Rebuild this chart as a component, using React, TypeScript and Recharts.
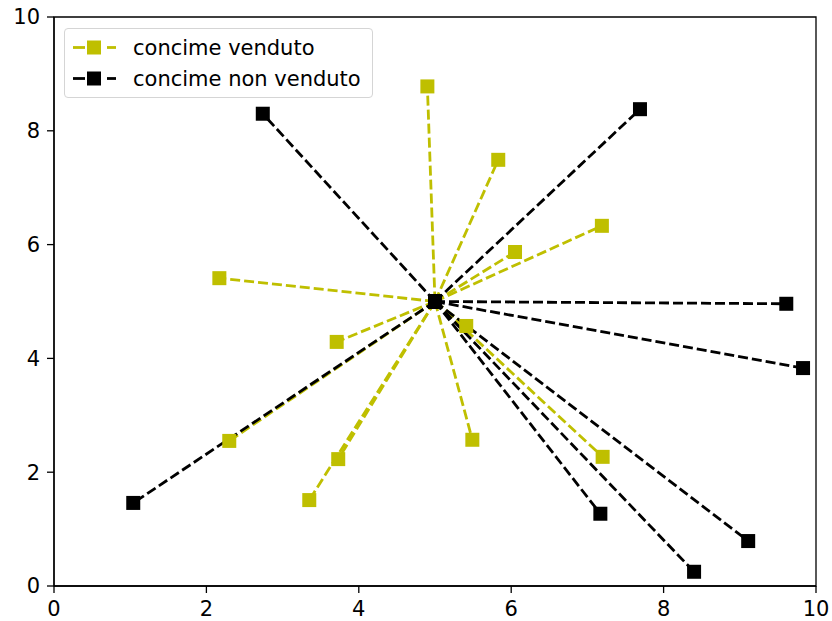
import React from 'react';
import { LineChart, Line, XAxis, YAxis, ReferenceArea } from 'recharts';

const CENTER = { x: 5, y: 5 };

// concime venduto (end points)
const vendutoX = [4.9, 5.83, 7.19, 6.05, 2.17, 3.71, 5.41, 2.3, 5.49, 3.73, 7.2, 3.35];
const vendutoY = [8.78, 7.49, 6.33, 5.87, 5.41, 4.29, 4.57, 2.55, 2.57, 2.23, 2.27, 1.51];

// concime non venduto (end points)
const nonVendutoX = [2.74, 7.69, 9.61, 9.83, 1.04, 7.17, 9.11, 8.4];
const nonVendutoY = [8.3, 8.38, 4.96, 3.83, 1.46, 1.27, 0.79, 0.25];

const TICKS = [0, 2, 4, 6, 8, 10];

const YELLOW = '#bfbf00';
const BLACK = '#000000';
const FONT = '"DejaVu Sans", sans-serif';
const FS = 21;
const MS = 14;

const segments = (xs: number[], ys: number[]) =>
  xs.map((x, i) => [CENTER, { x, y: ys[i] }]);

const squareDot = (color: string) => (props: any) => {
  const { cx, cy, key } = props;
  if (cx == null || cy == null) return <g key={key} />;
  return <rect key={key} x={cx - MS / 2} y={cy - MS / 2} width={MS} height={MS} fill={color} />;
};

const LegendIcon = ({ color }: { color: string }) => (
  <svg width={44} height={15} style={{ display: 'block' }}>
    <line x1={0} y1={7.5} x2={12} y2={7.5} stroke={color} strokeWidth={2.8} />
    <rect x={14} y={0.5} width={14} height={14} fill={color} />
    <line x1={34} y1={7.5} x2={43} y2={7.5} stroke={color} strokeWidth={2.8} />
  </svg>
);

const legendItems = [
  { name: 'concime venduto', color: YELLOW },
  { name: 'concime non venduto', color: BLACK },
];

export default function App() {
  const yellowSegs = segments(vendutoX, vendutoY);
  const blackSegs = segments(nonVendutoX, nonVendutoY);

  return (
    <div style={{ position: 'relative', width: 832, height: 621, background: '#fff' }}>
      <style>{'body{margin:0}'}</style>
      <LineChart width={832} height={621} margin={{ top: 17, right: 16, left: 0, bottom: 0 }}>
        <XAxis
          type="number"
          dataKey="x"
          domain={[0, 10]}
          ticks={TICKS}
          allowDataOverflow
          height={35}
          tickSize={7}
          tickMargin={8}
          stroke={BLACK}
          strokeWidth={1.3}
          tick={{ fill: BLACK, fontSize: FS, fontFamily: FONT }}
        />
        <YAxis
          type="number"
          dataKey="y"
          domain={[0, 10]}
          ticks={TICKS}
          allowDataOverflow
          width={54}
          tickSize={7}
          tickMargin={7}
          stroke={BLACK}
          strokeWidth={1.3}
          tick={{ fill: BLACK, fontSize: FS, fontFamily: FONT }}
        />
        <ReferenceArea x1={0} x2={10} y1={0} y2={10} fill="none" stroke={BLACK} strokeWidth={1.3} />
        {yellowSegs.map((d, i) => (
          <Line
            key={`v-${i}`}
            data={d}
            dataKey="y"
            stroke={YELLOW}
            strokeWidth={2.8}
            strokeDasharray="10 4"
            dot={squareDot(YELLOW)}
            activeDot={false}
            isAnimationActive={false}
          />
        ))}
        {blackSegs.map((d, i) => (
          <Line
            key={`n-${i}`}
            data={d}
            dataKey="y"
            stroke={BLACK}
            strokeWidth={2.8}
            strokeDasharray="10 4"
            dot={squareDot(BLACK)}
            activeDot={false}
            isAnimationActive={false}
          />
        ))}
      </LineChart>
      <div
        style={{
          position: 'absolute',
          left: 64,
          top: 28,
          width: 309,
          height: 70,
          boxSizing: 'border-box',
          border: '1px solid #d5d5d5',
          borderRadius: 4,
          background: 'rgba(255,255,255,0.8)',
          fontFamily: FONT,
          fontSize: FS,
          color: '#000',
          padding: '3px 0 0 8px',
        }}
      >
        {legendItems.map((it) => (
          <div key={it.name} style={{ display: 'flex', alignItems: 'center', height: 31 }}>
            <LegendIcon color={it.color} />
            <span style={{ marginLeft: 16 }}>{it.name}</span>
          </div>
        ))}
      </div>
    </div>
  );
}
